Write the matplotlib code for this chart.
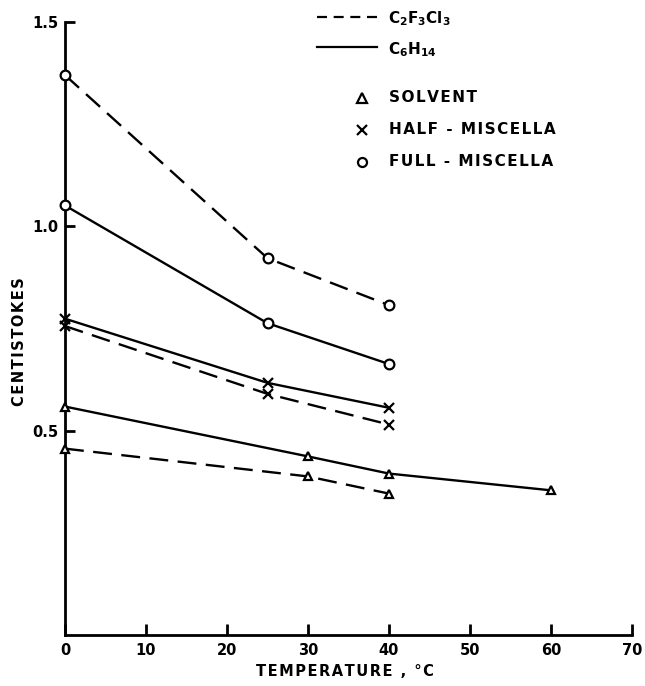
import matplotlib
matplotlib.use("Agg")
import matplotlib.pyplot as plt
from matplotlib.lines import Line2D

# ---- data ----
full_c2f3cl3_x = [0, 25, 40]
full_c2f3cl3_y = [1.37, 0.922, 0.807]
full_c6h14_x = [0, 25, 40]
full_c6h14_y = [1.051, 0.763, 0.663]
half_c6h14_x = [0, 25, 40]
half_c6h14_y = [0.774, 0.617, 0.556]
half_c2f3cl3_x = [0, 25, 40]
half_c2f3cl3_y = [0.756, 0.590, 0.515]
solv_c6h14_x = [0, 30, 40, 60]
solv_c6h14_y = [0.559, 0.437, 0.395, 0.354]
solv_c2f3cl3_x = [0, 30, 40]
solv_c2f3cl3_y = [0.456, 0.388, 0.346]

xticks = [0, 10, 20, 30, 40, 50, 60, 70]
yticks = [0.5, 1.0, 1.5]
ytick_labels = ["0.5", "1.0", "1.5"]

plt.rcParams["mathtext.fontset"] = "dejavusans"

W, H = 645, 686
fig = plt.figure(figsize=(W / 100, H / 100), dpi=100)
ax = fig.add_axes([65 / W, 1 - 635 / H, (632 - 65) / W, (635 - 22) / H])

FONT = dict(family="DejaVu Sans", weight="bold")
HS = "\u200a"  # hair space for letter spacing


def spaced(s):
    return HS.join(s)


lw = 1.7
dash = (0, (8, 4))


def series(x, y, marker, ls, ms):
    mfc = "white" if marker != "x" else "black"
    ax.plot(x, y, color="black", lw=lw, linestyle=ls, marker=marker,
            markersize=ms, markerfacecolor=mfc, markeredgecolor="black",
            markeredgewidth=1.6, clip_on=False, zorder=3)


series(full_c2f3cl3_x, full_c2f3cl3_y, "o", dash, 7)
series(full_c6h14_x, full_c6h14_y, "o", "-", 7)
series(half_c6h14_x, half_c6h14_y, "x", "-", 7)
series(half_c2f3cl3_x, half_c2f3cl3_y, "x", dash, 7)
series(solv_c6h14_x, solv_c6h14_y, "^", "-", 6)
series(solv_c2f3cl3_x, solv_c2f3cl3_y, "^", dash, 6)

ax.set_xlim(0, 70)
ax.set_ylim(0, 1.5)
for s in ["top", "right"]:
    ax.spines[s].set_visible(False)
for s in ["left", "bottom"]:
    ax.spines[s].set_linewidth(2)
ax.set_xticks(xticks)
ax.set_xticklabels([str(t) for t in xticks], fontsize=10.5, **FONT)
ax.set_yticks(yticks)
ax.set_yticklabels(ytick_labels, fontsize=10.5, **FONT)
ax.tick_params(axis="x", direction="in", length=8, width=2, pad=6)
ax.tick_params(axis="y", direction="in", length=7, width=2, pad=5)

fig.text(345 / W, 1 - 672 / H, spaced("TEMPERATURE , °C"), ha="center",
         va="center", fontsize=10.5, **FONT)
fig.text(20 / W, 1 - 342 / H, spaced("CENTISTOKES"), ha="center", va="center",
         rotation=90, fontsize=10.5, **FONT)


# ---- legend (drawn in figure coordinates) ----
def fx(px):
    return px / W


def fy(py):
    return 1 - py / H


fig.add_artist(Line2D([fx(317), fx(377)], [fy(17), fy(17)], color="black",
                      lw=1.6, linestyle=(0, (4.5, 3)), transform=fig.transFigure))
fig.add_artist(Line2D([fx(317), fx(377)], [fy(47), fy(47)], color="black",
                      lw=1.6, linestyle="-", transform=fig.transFigure))
fig.text(fx(388), fy(19), r"$\mathbf{C_2F_3Cl_3}$", ha="left", va="center",
         fontsize=11, **FONT)
fig.text(fx(388), fy(50), r"$\mathbf{C_6H_{14}}$", ha="left", va="center",
         fontsize=11, **FONT)

legend_items = [("^", "SOLVENT", 98), ("x", "HALF - MISCELLA", 130),
                ("o", "FULL - MISCELLA", 162)]
for m, label, py in legend_items:
    mfc = "white" if m != "x" else "black"
    fig.add_artist(Line2D([fx(362)], [fy(py)], marker=m, markersize=6.5,
                          markerfacecolor=mfc, markeredgecolor="black",
                          markeredgewidth=1.6, linestyle="none",
                          transform=fig.transFigure))
    fig.text(fx(389), fy(py), spaced(label), ha="left", va="center",
             fontsize=11, **FONT)

fig.savefig("out.png", dpi=100)
